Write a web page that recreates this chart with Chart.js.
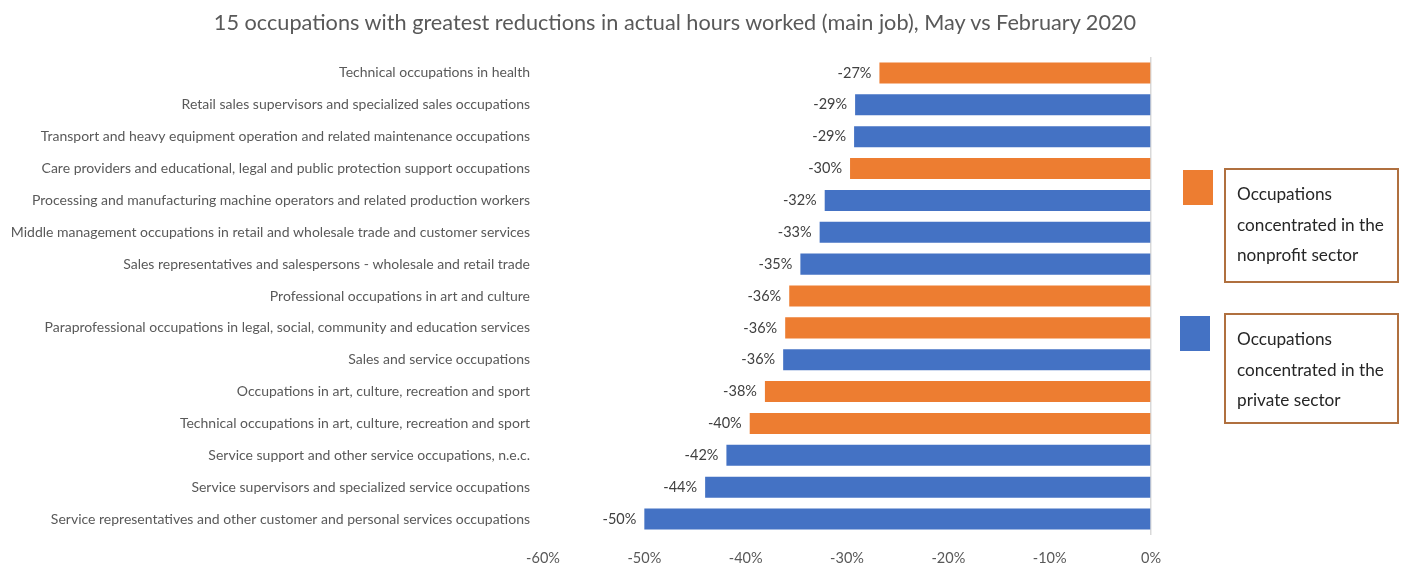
<!DOCTYPE html>
<html>
<head>
<meta charset="utf-8">
<script src="https://cdn.jsdelivr.net/npm/chart.js@4/dist/chart.umd.min.js"></script>
<style>
  html, body { margin: 0; padding: 0; background: #fff; }
  #wrap { position: relative; width: 1401px; height: 568px; font-family: Lato, "Noto Sans", sans-serif; }
  #title { position: absolute; left: 0; width: 1350px; top: 9px; text-align: center; font-size: 21.7px; color: #595959; }
  .swatch { position: absolute; width: 30px; height: 35px; }
  .lbox { position: absolute; left: 1224px; width: 160px; border: 2px solid #b0703f; padding: 9px 0 0 11px; font-size: 17.2px; line-height: 30.5px; color: #262626; }
</style>
</head>
<body>
<div id="wrap">
  <canvas id="chart" width="1401" height="568"></canvas>
  <div id="title">15 occupations with greatest reductions in actual hours worked (main job), May vs February 2020</div>
  <div class="swatch" style="left:1183px; top:170px; background:#ED7D31;"></div>
  <div class="lbox" style="top:168px; height:102px;">Occupations concentrated in the nonprofit sector</div>
  <div class="swatch" style="left:1180px; top:316px; background:#4472C4;"></div>
  <div class="lbox" style="top:313px; height:98px;">Occupations concentrated in the private sector</div>
</div>
<script>
'use strict';

const occupations = [
    "Technical occupations in health",
    "Retail sales supervisors and specialized sales occupations",
    "Transport and heavy equipment operation and related maintenance occupations",
    "Care providers and educational, legal and public protection support occupations",
    "Processing and manufacturing machine operators and related production workers",
    "Middle management occupations in retail and wholesale trade and customer services",
    "Sales representatives and salespersons - wholesale and retail trade",
    "Professional occupations in art and culture",
    "Paraprofessional occupations in legal, social, community and education services",
    "Sales and service occupations",
    "Occupations in art, culture, recreation and sport",
    "Technical occupations in art, culture, recreation and sport",
    "Service support and other service occupations, n.e.c.",
    "Service supervisors and specialized service occupations",
    "Service representatives and other customer and personal services occupations"
];

// change in hours, share (-0.27 = -27%)
const hoursChange = [
    -0.268, -0.292, -0.293, -0.297, -0.322, -0.327, -0.346, -0.357,
    -0.361, -0.363, -0.381, -0.396, -0.419, -0.440, -0.500
];

const sector = [
    "nonprofit", "private", "private", "nonprofit", "private", "private", "private", "nonprofit",
    "nonprofit", "private", "nonprofit", "nonprofit", "private", "private", "private"
];

const xTicks = [-0.6, -0.5, -0.4, -0.3, -0.2, -0.1, 0];

const SECTOR_COLORS = { nonprofit: "#ED7D31", private: "#4472C4" };
const FONT = "Lato, 'Noto Sans', sans-serif";

const pct = v => Math.round(v * 100) + "%";

// draws "-27%" just left of each bar end
const barLabels = {
    id: 'barLabels',
    afterDatasetsDraw(chart) {
        const ctx = chart.ctx;
        const meta = chart.getDatasetMeta(0);
        ctx.save();
        ctx.font = "14.5px " + FONT;
        ctx.fillStyle = "#404040";
        ctx.textAlign = "right";
        ctx.textBaseline = "middle";
        meta.data.forEach((bar, i) => {
            ctx.fillText(pct(hoursChange[i]), bar.x - 8, bar.y);
        });
        ctx.restore();
    }
};

new Chart(document.getElementById('chart'), {
    type: 'bar',
    data: {
        labels: occupations,
        datasets: [{
            data: hoursChange,
            backgroundColor: sector.map(s => SECTOR_COLORS[s]),
            categoryPercentage: 0.66,
            barPercentage: 1.0,
        }]
    },
    options: {
        indexAxis: 'y',
        responsive: false,
        animation: false,
        layout: { padding: { top: 57, right: 250, bottom: 0, left: 0 } },
        plugins: {
            legend: { display: false },
            tooltip: { enabled: false },
        },
        scales: {
            x: {
                min: -0.6,
                max: 0,
                afterBuildTicks: scale => { scale.ticks = xTicks.map(v => ({ value: v })); },
                afterFit: scale => { scale.height = 33; },
                grid: {
                    drawTicks: false,
                    color: ctx => ctx.tick && ctx.tick.value === 0 ? '#d9d9d9' : 'rgba(0,0,0,0)',
                    lineWidth: 1.5,
                },
                border: { display: false },
                ticks: {
                    padding: 15,
                    color: '#595959',
                    font: { family: FONT, size: 14.5 },
                    callback: v => pct(v),
                },
            },
            y: {
                afterFit: scale => { scale.width = 543; },
                grid: { display: false, drawTicks: false },
                border: { display: false },
                ticks: {
                    padding: 13,
                    color: '#595959',
                    font: { family: FONT, size: 14 },
                    autoSkip: false,
                },
            }
        }
    },
    plugins: [barLabels],
});
</script>
</body>
</html>
